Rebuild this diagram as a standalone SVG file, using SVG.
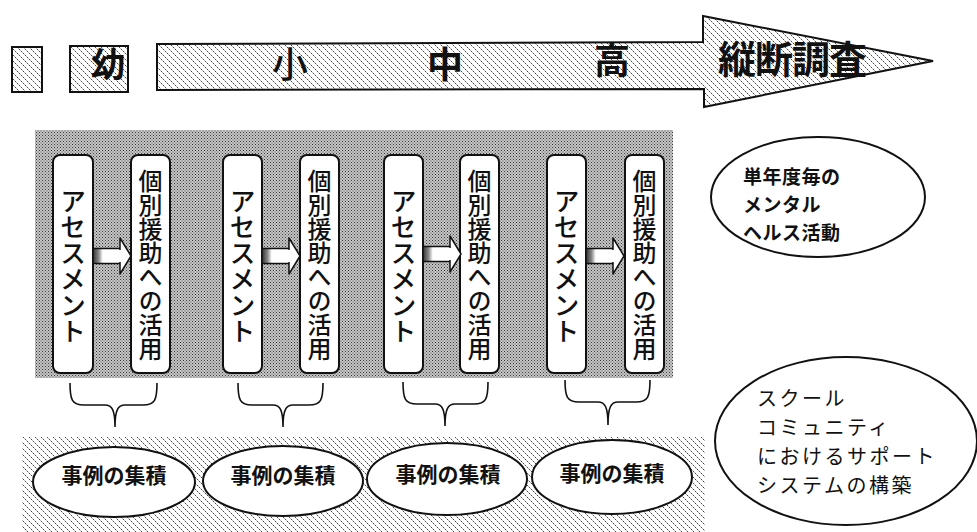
<svg xmlns="http://www.w3.org/2000/svg" width="977" height="532" viewBox="0 0 977 532">
<defs>
  <pattern id="hatch" width="6" height="6" patternUnits="userSpaceOnUse">
    <rect width="6" height="6" fill="#fff"/>
    <path d="M-1,-1 L7,7 M-1,5 L1,7 M5,-1 L7,1" stroke="#333" stroke-width="0.9" stroke-dasharray="2 0.8"/>
  </pattern>
  <pattern id="stipple" width="3" height="3" patternUnits="userSpaceOnUse">
    <rect width="3" height="3" fill="#c6c6c6"/>
    <rect x="0" y="0" width="1" height="1" fill="#3a3a3a"/>
    <rect x="1.5" y="1.5" width="1" height="1" fill="#555"/>
  </pattern>
  <linearGradient id="shaft" x1="0" y1="0" x2="1" y2="0">
    <stop offset="0" stop-color="#333"/>
    <stop offset="0.2" stop-color="#888"/>
    <stop offset="0.35" stop-color="#fff"/>
    <stop offset="1" stop-color="#fff"/>
  </linearGradient>
  <g id="stepArrow">
    <rect x="0" y="-7.5" width="28" height="15" fill="url(#shaft)" stroke="#111" stroke-width="1.5"/>
    <path d="M27,-18 L38,0 L27,18 Z" fill="#fff" stroke="#111" stroke-width="1.5" stroke-linejoin="round"/>
    <rect x="25" y="-6" width="4" height="12" fill="#fff"/>
  </g>
</defs>
<style>
  .hb{fill:url(#hatch);stroke:#111;stroke-width:2}
  .box{fill:#fff;stroke:#111;stroke-width:2}
  .ov{fill:#fff;stroke:#111;stroke-width:2}
  .big{font-family:"Noto Sans CJK JP","Noto Sans CJK SC",sans-serif;font-weight:700;fill:#111}
  .vt{font-family:"Noto Sans CJK JP","Noto Sans CJK SC",sans-serif;font-weight:500;fill:#111;writing-mode:vertical-rl;text-orientation:upright;text-anchor:middle}
  .lab{font-family:"Noto Sans CJK JP","Noto Sans CJK SC",sans-serif;fill:#111}
  .brace{fill:none;stroke:#111;stroke-width:1.6}
</style>

<g id="timeline">
  <rect id="blank-box" class="hb" x="12" y="47" width="30" height="45"/>
  <g id="kindergarten">
    <rect class="hb" x="70" y="46" width="58" height="46"/>
    <text class="big" x="108" y="77" font-size="34" text-anchor="middle">幼</text>
  </g>
  <g id="longitudinal-arrow">
    <path class="hb" d="M157,44 L703,42 L703,16 L933,61 L704,107 L704,89 L157,90 Z" stroke-linejoin="miter"/>
    <text class="lab" x="290" y="78" font-size="36" text-anchor="middle" font-weight="500">小</text>
    <text class="big" x="445" y="78" font-size="36" text-anchor="middle">中</text>
    <text class="big" x="612" y="74" font-size="36" text-anchor="middle">高</text>
    <text class="big" x="792" y="73" font-size="38" text-anchor="middle" letter-spacing="-1">縦断調査</text>
  </g>
</g>

<rect id="panel" x="35" y="130" width="638" height="248" fill="url(#stipple)"/>

<g id="assessment-1"><rect class="box" x="53" y="155" width="40" height="218" rx="7"/><text class="vt" x="73" y="266" font-size="26">アセスメント</text></g>
<g id="support-1"><rect class="box" x="131" y="155" width="39" height="218" rx="7"/><text class="vt" x="150.5" y="265" font-size="24">個別援助への活用</text></g>
<g id="assessment-2"><rect class="box" x="223" y="155" width="39" height="218" rx="7"/><text class="vt" x="242.5" y="266" font-size="26">アセスメント</text></g>
<g id="support-2"><rect class="box" x="300" y="155" width="39" height="218" rx="7"/><text class="vt" x="319.5" y="265" font-size="24">個別援助への活用</text></g>
<g id="assessment-3"><rect class="box" x="384" y="155" width="39" height="218" rx="7"/><text class="vt" x="403.5" y="266" font-size="26">アセスメント</text></g>
<g id="support-3"><rect class="box" x="460" y="155" width="39" height="218" rx="7"/><text class="vt" x="479.5" y="265" font-size="24">個別援助への活用</text></g>
<g id="assessment-4"><rect class="box" x="547" y="155" width="39" height="218" rx="7"/><text class="vt" x="566.5" y="266" font-size="26">アセスメント</text></g>
<g id="support-4"><rect class="box" x="625" y="155" width="39" height="218" rx="7"/><text class="vt" x="644.5" y="265" font-size="24">個別援助への活用</text></g>

<g id="connectors">
  <use href="#stepArrow" x="93" y="256"/>
  <use href="#stepArrow" x="262" y="256"/>
  <use href="#stepArrow" x="423" y="254"/>
  <use href="#stepArrow" x="586" y="256"/>
  <path class="brace" d="M70,383 C70,400 72,405 84,405 L105,405 C112,405 115,410 115,427 M157,383 C157,400 155,405 143,405 L125,405 C118,405 115,410 115,427"/>
  <path class="brace" d="M238,383 C238,400 240,405 252,405 L273,405 C280,405 283,410 283,427 M323,383 C323,400 321,405 309,405 L293,405 C286,405 283,410 283,427"/>
  <path class="brace" d="M403,382 C403,399 405,404 417,404 L435,404 C442,404 445,409 445,426 M488,382 C488,399 486,404 474,404 L455,404 C448,404 445,409 445,426"/>
  <path class="brace" d="M565,380 C565,397 567,402 579,402 L598,402 C605,402 608,407 608,425 M650,380 C650,397 648,402 636,402 L618,402 C611,402 608,407 608,425"/>
</g>

<rect id="case-strip" x="22" y="437" width="683" height="95" fill="url(#hatch)"/>

<g id="case-1"><ellipse class="ov" cx="114" cy="482" rx="81" ry="35"/><text class="big" x="114" y="483" font-size="21" text-anchor="middle">事例の集積</text></g>
<g id="case-2"><ellipse class="ov" cx="283" cy="481" rx="80" ry="35"/><text class="big" x="283" y="483" font-size="21" text-anchor="middle">事例の集積</text></g>
<g id="case-3"><ellipse class="ov" cx="447" cy="479" rx="80" ry="36"/><text class="big" x="448" y="482" font-size="21" text-anchor="middle">事例の集積</text></g>
<g id="case-4"><ellipse class="ov" cx="612" cy="477" rx="80" ry="37"/><text class="big" x="612" y="481" font-size="21" text-anchor="middle">事例の集積</text></g>

<g id="yearly-activity">
  <ellipse class="ov" cx="818" cy="197" rx="107" ry="60"/>
  <text class="lab" font-size="19" font-weight="700" letter-spacing="0.5"><tspan x="743" y="184">単年度毎の</tspan><tspan x="743" y="212">メンタル</tspan><tspan x="743" y="240">ヘルス活動</tspan></text>
</g>

<g id="school-community">
  <ellipse class="ov" cx="846" cy="441" rx="131" ry="84"/>
  <text class="lab" font-size="20" letter-spacing="2.5"><tspan x="757" y="406">スクール</tspan><tspan x="757" y="435">コミュニティ</tspan><tspan x="757" y="464">におけるサポート</tspan><tspan x="757" y="493">システムの構築</tspan></text>
</g>
</svg>
